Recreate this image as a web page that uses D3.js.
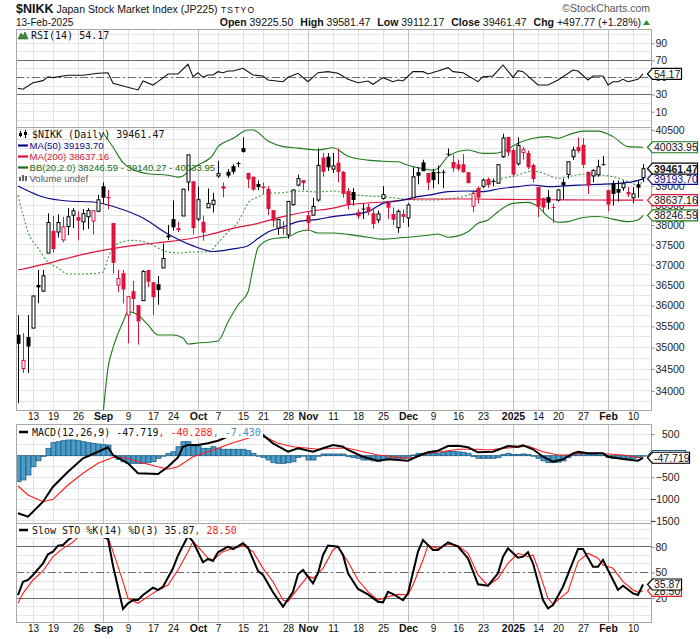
<!DOCTYPE html>
<html><head><meta charset="utf-8">
<script src="https://cdn.jsdelivr.net/npm/d3@7"></script>
<style>body{margin:0;background:#fff}</style>
</head><body>
<svg id="c" width="700" height="639"></svg>
<script>
// ---------------- DATA ----------------
const dates = [
"2024-08-07","2024-08-08","2024-08-09","2024-08-13","2024-08-14","2024-08-15","2024-08-16","2024-08-19","2024-08-20","2024-08-21","2024-08-22","2024-08-23","2024-08-26","2024-08-27","2024-08-28","2024-08-29","2024-08-30",
"2024-09-02","2024-09-03","2024-09-04","2024-09-05","2024-09-06","2024-09-09","2024-09-10","2024-09-11","2024-09-12","2024-09-13","2024-09-17","2024-09-18","2024-09-19","2024-09-20","2024-09-24","2024-09-25","2024-09-26","2024-09-27","2024-09-30",
"2024-10-01","2024-10-02","2024-10-03","2024-10-04","2024-10-07","2024-10-08","2024-10-09","2024-10-10","2024-10-11","2024-10-15","2024-10-16","2024-10-17","2024-10-18","2024-10-21","2024-10-22","2024-10-23","2024-10-24","2024-10-25","2024-10-28","2024-10-29","2024-10-30","2024-10-31",
"2024-11-01","2024-11-05","2024-11-06","2024-11-07","2024-11-08","2024-11-11","2024-11-12","2024-11-13","2024-11-14","2024-11-15","2024-11-18","2024-11-19","2024-11-20","2024-11-21","2024-11-22","2024-11-25","2024-11-26","2024-11-27","2024-11-28","2024-11-29",
"2024-12-02","2024-12-03","2024-12-04","2024-12-05","2024-12-06","2024-12-09","2024-12-10","2024-12-11","2024-12-12","2024-12-13","2024-12-16","2024-12-17","2024-12-18","2024-12-19","2024-12-20","2024-12-23","2024-12-24","2024-12-25","2024-12-26","2024-12-27","2024-12-30",
"2025-01-06","2025-01-07","2025-01-08","2025-01-09","2025-01-10","2025-01-14","2025-01-15","2025-01-16","2025-01-17","2025-01-20","2025-01-21","2025-01-22","2025-01-23","2025-01-24","2025-01-27","2025-01-28","2025-01-29","2025-01-30","2025-01-31",
"2025-02-03","2025-02-04","2025-02-05","2025-02-06","2025-02-07","2025-02-10","2025-02-12","2025-02-13"];

const open = [35300,34510,35250,35460,36500,36350,37290,37850,37820,37620,37960,38250,38200,38080,38210,38100,38350,39000,38720,38050,
36500,36790,35770,36350,36010,36120,36870,36570,36520,36920,37700,38150,37920,38230,39110,39130,38150,38080,38440,38530,
39270,39000,39380,39530,39610,40010,39350,39250,39060,38990,38930,38380,37920,37930,37750,38520,39030,39160,38250,38250,
38640,39760,39780,39450,39620,39380,38880,38850,38330,38420,38460,38300,38130,38680,38570,38280,37930,38280,38180,38700,
39370,39630,39350,39380,39370,39380,39860,39640,39580,39580,39370,38480,38950,39000,39190,39140,39080,39780,40310,39960,
39590,39890,39880,39560,38980,38690,38720,38460,38640,39110,39310,39780,40040,40100,39380,39270,39300,39580,38900,39080,
38930,38960,38850,38700,39050,39225.50];
const high = [35770,35340,35770,36240,36870,36870,38300,38230,38270,38210,38430,38430,38350,38410,38430,38380,38780,39100,38900,38050,
36870,36870,36220,36600,36010,36870,36870,36570,36720,37530,38000,38630,38080,38930,39830,39130,38990,38240,38940,38830,
39670,39100,39450,39580,39650,40300,39350,39250,39150,39100,39000,38380,38150,38100,38610,38920,39300,39160,38350,38700,
40000,39880,39880,39880,40000,39400,38950,38950,38400,38550,38550,38400,38370,39000,38570,38450,38400,38400,38560,39500,
39500,39700,39350,39450,39550,39430,40000,39840,39700,39850,39370,38900,39000,39200,39230,39200,39570,40400,40310,40000,
40300,40050,39950,39600,38980,38700,38900,38550,38920,39200,39650,40050,40300,40280,39380,39450,39700,39800,38900,39150,
39150,39150,38980,38980,39150,39581.47];
const low = [33720,34410,34410,35460,36060,36330,37290,37300,37680,37560,37740,37920,37610,37870,37900,37760,38330,38550,38400,36780,
36330,36050,35100,35860,35070,36120,36450,35770,36020,36920,37620,37860,37820,38230,38880,37760,38100,37600,38440,38320,
39220,38710,39220,39320,39500,39890,38950,38880,38900,38800,38250,37950,37750,37750,37650,38500,39000,38900,37850,38250,
38600,39250,39400,39350,39100,38700,38400,38500,38150,38150,38250,37900,38050,38650,38150,38000,37800,38050,37950,38700,
39050,39420,38900,38950,39050,38950,39800,39380,39400,39360,39080,38330,38550,38950,38960,39000,39070,39750,39800,39250,
39550,39700,39450,39100,38200,38300,38400,38050,38600,38650,39200,39700,39880,39480,38800,39100,39250,39550,38350,38500,
38600,38880,38720,38560,38700,39112.17];
const close = [35089,34700,35025,36232,36442,36726,38062,37388,38062,37951,38211,38364,38110,38288,38371,38362,38647,38700,38686,37047,
36657,36391,36215,36159,35619,36833,36581,36203,36380,37155,37723,37940,37870,38925,39829,37919,38651,37808,38552,38635,
39332,38937,39277,39380,39605,39910,39180,38911,38981,38954,38411,38104,38143,37913,38605,38903,39200,39081,38053,38474,
39550,39381,39500,39533,39376,38800,38535,38642,38220,38414,38352,38026,38283,38780,38442,38134,38349,38208,38513,39248,
39276,39395,39091,39161,39367,39372,39849,39470,39457,39365,39082,38813,38701,39161,39036,39130,39568,40281,39894,39307,
40083,39981,39500,39190,38474,38445,38572,38451,38902,39027,39646,39958,39931,39565,39016,39415,39513,39572,38520,38798,
38831,39066,38787,38801,38963.70,39461.47];

// overlays: [trading-day index, value]
const ma50 = [[0,39007],[5,38720],[10,38616],[15,38590],[20,38436],[25,38180],[30,37770],[35,37470],[39,37330],[43,37395],[46,37475],[48,37655],[50,37820],[53,37950],[56,38085],[60,38145],[63,38215],[66,38256],[70,38340],[73,38555],[76,38616],[80,38728],[83,38790],[86,38860],[90,38876],[93,38860],[96,38928],[100,38990],[103,39033],[106,38990],[110,39016],[113,39033],[116,39050],[120,39077],[123,39120],[125,39193.70]];
const ma200 = [[0,36870],[6,37035],[13,37260],[18,37385],[25,37510],[30,37577],[34,37645],[38,37745],[43,37915],[48,38042],[53,38215],[58,38345],[63,38432],[66,38520],[73,38590],[80,38668],[90,38668],[100,38655],[110,38645],[120,38640],[125,38637.16]];
const bbUpper = [[17,40420],[19,40040],[21,39620],[23,39440],[26,39330],[30,39290],[32,39240],[33,39270],[34,39390],[36,39560],[39,39830],[40,40050],[43,40270],[46,40500],[47,40500],[50,40200],[53,40050],[56,40010],[60,39960],[63,40020],[66,39790],[70,39690],[73,39660],[76,39645],[78,39555],[80,39490],[83,39425],[84,39470],[86,39790],[90,39960],[93,39870],[95,39870],[97,39920],[100,40140],[103,40275],[106,40320],[108,40275],[110,40365],[113,40470],[116,40470],[119,40320],[122,40050],[125,40033.95]];
const bbMiddle = [[0,38770],[1,38256],[2,37823],[4,37418],[6,37068],[8,36920],[10,36772],[13,36772],[16,36796],[17,36820],[18,37168],[19,37443],[21,37577],[23,37610],[26,37544],[28,37418],[30,37318],[32,37293],[35,37318],[38,37318],[40,37544],[42,37822],[44,38076],[45,38307],[46,38565],[48,38720],[50,38824],[52,38824],[54,38850],[56,38876],[60,38850],[63,38876],[66,38800],[70,38745],[73,38728],[76,38685],[80,38642],[83,38642],[86,38668],[90,38770],[93,38990],[96,39164],[100,39296],[103,39401],[106,39296],[108,39208],[110,39252],[113,39314],[116,39296],[119,39252],[122,39120],[124,39033],[125,39140.27]];
const bbLower = [[17,33450],[18,34525],[19,34990],[21,35606],[22,35855],[24,35775],[26,35535],[28,35297],[31,35297],[33,35226],[34,35085],[36,35108],[40,35155],[42,35606],[44,36014],[46,36330],[47,36920],[48,37420],[50,37620],[52,37670],[54,37695],[56,37820],[58,37873],[60,37795],[63,37795],[66,37760],[70,37690],[73,37640],[76,37670],[78,37690],[82,37740],[84,37770],[86,37690],[90,37830],[92,38045],[94,38127],[96,38340],[99,38555],[102,38580],[104,38470],[106,38215],[108,38070],[110,38085],[113,38190],[116,38215],[119,38150],[122,38085],[124,38127],[125,38246.59]];

const rsi = [[0,37.4],[1,36.2],[3,43.9],[5,46.3],[6,50.9],[7,49.8],[10,52.6],[13,52.6],[16,54.9],[18,55.6],[19,43.2],[21,40.1],[24,35.4],[25,45.9],[27,41.2],[28,45.1],[30,54.1],[32,54.1],[34,65.4],[35,50.9],[36,55.6],[37,50.2],[38,52.9],[39,52.9],[40,56.8],[41,55.6],[42,57.6],[43,57.6],[45,60.8],[47,52.9],[49,51.8],[50,47.1],[53,45.1],[54,50.2],[56,54.9],[58,45.1],[60,55.6],[62,56.8],[64,54.9],[66,47.9],[68,43.9],[70,45.9],[71,42.0],[73,49.8],[75,45.1],[76,47.1],[77,45.9],[79,56.8],[81,56.8],[82,54.1],[84,57.6],[86,61.5],[87,56.8],[89,55.6],[92,45.1],[93,50.9],[95,51.8],[97,64.6],[99,50.2],[100,58.0],[101,56.8],[104,41.2],[106,41.2],[108,47.1],[111,58.8],[112,57.6],[114,47.1],[115,51.8],[117,51.8],[118,41.2],[119,45.1],[120,45.1],[121,47.9],[122,45.1],[124,47.9],[125,54.17]];

const macd = [[0,-1330],[2,-1409],[5,-1062],[7,-716],[10,-370],[13,-60],[16,92],[18,194],[19,16],[22,-176],[24,-406],[28,-423],[30,-254],[32,-37],[33,208],[34,247],[36,247],[38,286],[40,346],[42,439],[44,531],[46,560],[48,530],[49,480],[51,286],[54,92],[56,171],[59,92],[61,171],[63,247],[65,208],[66,132],[69,-23],[72,-115],[74,-83],[78,-115],[80,-7],[82,78],[84,115],[86,224],[88,231],[90,194],[92,78],[95,92],[98,224],[100,208],[101,240],[103,148],[105,-23],[107,-139],[109,-83],[111,55],[112,92],[114,55],[117,55],[118,-23],[121,-76],[124,-115],[125,-47.719]];
const macdSignal = [[0,-700],[2,-908],[5,-1062],[7,-1007],[10,-677],[13,-406],[16,-176],[19,-37],[22,-60],[24,-139],[28,-254],[30,-314],[32,-254],[35,-23],[38,92],[40,171],[43,300],[46,402],[48,455],[50,402],[52,286],[55,208],[58,171],[60,148],[63,171],[66,171],[69,92],[72,16],[75,-23],[78,-60],[80,-23],[82,55],[86,115],[88,148],[92,148],[94,132],[97,171],[100,194],[102,224],[105,92],[108,16],[110,16],[113,55],[116,55],[118,39],[121,16],[124,-37],[125,-40.288]];
const macdHist = [-600,-560,-446,-254,-115,-15,171,300,323,346,363,363,346,323,300,286,270,254,247,10,
-83,-139,-176,-176,-176,-176,-162,-139,-60,0,55,92,208,323,323,224,224,171,171,208,
171,148,148,148,148,148,115,55,0,-37,-99,-162,-176,-176,-162,-139,-37,0,-99,-99,
0,39,39,39,39,39,-20,-40,-60,-99,-99,-120,-130,-99,-60,-60,-60,-60,-40,16,
55,55,55,55,55,80,100,100,90,80,55,-20,-60,-60,-60,-60,-40,30,55,30,
30,40,30,-10,-60,-120,-160,-160,-150,-120,-40,30,55,55,40,30,20,10,-40,-60,
-60,-60,-60,-60,-40,-7.430];

const stoK = [[0,23.5],[1,39.2],[2,41.2],[3,47.1],[5,60.8],[6,71.4],[7,74.5],[8,81.6],[9,82.4],[10,88.2],[11,92],[17,92],[18,89.4],[19,58],[21,7.1],[22,13.8],[23,17.6],[24,17.6],[25,23.5],[27,32.2],[28,29.4],[29,33.3],[31,55],[32,70],[34,93],[35,86.3],[37,62],[38,65.9],[39,63.5],[40,73.8],[42,80.4],[43,77.6],[45,84.3],[46,79.2],[48,51.8],[49,47.1],[51,26.7],[53,9.8],[55,27.4],[56,47.9],[57,52.9],[59,37.3],[60,49.1],[61,70.6],[62,81.6],[64,80.4],[65,70.6],[66,49],[68,30.6],[70,24.3],[72,15.7],[73,14.9],[74,27.4],[75,24.7],[77,17.6],[78,25.5],[80,74.5],[81,88.2],[83,76.5],[84,76.5],[86,85.5],[88,80.4],[90,66.7],[92,36.1],[94,34.5],[96,49.1],[97,68.6],[98,78.4],[100,67.4],[101,68.6],[102,73.8],[103,60.8],[105,17.6],[106,7.9],[107,11.8],[109,33.3],[112,77.6],[113,77.6],[115,56.9],[116,56.9],[117,64.7],[118,52.9],[120,29.4],[121,34.5],[123,25.5],[124,23.5],[125,35.87]];
const stoD = [[0,13.8],[1,25.5],[3,41.2],[5,51.8],[7,68.6],[9,78.4],[11,85.5],[12,92],[18,92],[19,74.5],[21,39.2],[22,19.6],[24,13.8],[26,21.6],[28,29.4],[30,35.3],[32,52.9],[34,74.5],[35,86.3],[36,80.4],[38,66.7],[39,64.7],[41,74.5],[43,78.4],[45,81.6],[47,74.5],[49,54.9],[51,39.2],[53,17.6],[54,15.7],[56,31.4],[58,45.9],[59,43.2],[61,54.9],[63,76.5],[64,80.4],[66,62.7],[68,41.2],[70,27.4],[72,17.6],[74,21.6],[76,24.3],[78,23.5],[79,35.3],[81,64.7],[82,81.6],[84,78.4],[86,83.2],[88,81.6],[90,72.6],[92,47.1],[94,34.5],[96,43.2],[98,60.8],[100,72.6],[102,68.6],[103,70.6],[104,54.9],[106,19.6],[107,12.6],[110,27.4],[112,62.7],[114,72.6],[116,66.7],[117,58.8],[119,54.9],[121,39.2],[123,29.4],[124,26.7],[125,28.50]];

const xTickDates = ["2024-08-13","2024-08-19","2024-08-26","2024-09-02","2024-09-09","2024-09-17","2024-09-24","2024-10-01","2024-10-07","2024-10-15","2024-10-21","2024-10-28","2024-11-01","2024-11-11","2024-11-18","2024-11-25","2024-12-02","2024-12-09","2024-12-16","2024-12-23","2025-01-06","2025-01-14","2025-01-20","2025-01-27","2025-02-03","2025-02-10"];
const xTickLabels = ["13","19","26","Sep","9","17","24","Oct","7","15","21","28","Nov","11","18","25","Dec","9","16","23","2025","14","20","27","Feb","10"];
const monthLabels = ["Sep","Oct","Nov","Dec","2025","Feb"];
// axis labels that stay visible around the value tags
const priceTicks = [34000,34500,35000,35500,36000,36500,37000,37500,38000,38500,39000,40500];
const rsiTicks = [10,30,50,70,90];
const macdTicks = [500,-500,-1000,-1500];
const stoTicks = [20,50,80];

// ---------------- LAYOUT ----------------
const SANS = '"Liberation Sans", Arial, sans-serif';
const MONO = '"DejaVu Sans Mono", monospace';
const L = 16, R = 651;
const panels = {rsi:[29,127], main:[127,410], macd:[424,523], sto:[523,622]};
const svg = d3.select('#c');

const x = d3.scalePoint().domain(dates).range([18, 643]);
const xi = i => x(dates[i]);
const yRsi = d3.scaleLinear().domain([-7.9, 106.7]).range([127, 29]);
const yMain = d3.scaleLog().domain([33565, 40581]).range([410, 127]);
const yMacd = d3.scaleLinear().domain([-1554, 732]).range([523, 424]);
const ySto = d3.scaleLinear().domain([-8.2, 108.2]).range([622, 523]);

const defs = svg.append('defs');
Object.entries(panels).forEach(([k,[t,b]]) => {
  defs.append('clipPath').attr('id','clip-'+k).append('rect')
    .attr('x',L).attr('y',t).attr('width',R-L).attr('height',b-t);
});

function vgrid(t,b){
  xTickDates.forEach((d,k)=>{
    const major = monthLabels.includes(xTickLabels[k]);
    svg.append('line').attr('x1',x(d)).attr('x2',x(d)).attr('y1',t).attr('y2',b)
      .attr('stroke', major ? '#c2c2c2' : '#e2e2e2').attr('stroke-width',1)
      .attr('shape-rendering','crispEdges');
  });
}
function hgrid(vals, y, t, b){
  vals.forEach(v=>{
    const yy = y(v); if (yy < t || yy > b) return;
    svg.append('line').attr('x1',L).attr('x2',R).attr('y1',yy).attr('y2',yy)
      .attr('stroke','#e6e6e6').attr('shape-rendering','crispEdges');
  });
}
function refLine(y, v, dash){
  svg.append('line').attr('x1',L).attr('x2',R).attr('y1',y(v)).attr('y2',y(v))
    .attr('stroke','#6a6a6a').attr('stroke-width',1).attr('shape-rendering','crispEdges')
    .attr('stroke-dasharray', dash ? '8,3,2,3' : null);
}

hgrid(d3.range(0,101,10), yRsi, 29, 127);
hgrid(d3.range(33750,40501,250), yMain, 127, 410);
hgrid(d3.range(-1500,501,250), yMacd, 424, 523);
hgrid(d3.range(0,101,10), ySto, 523, 622);
Object.values(panels).forEach(([t,b])=>vgrid(t,b));

refLine(yRsi,70); refLine(yRsi,30); refLine(yRsi,50,true);
refLine(ySto,80); refLine(ySto,20); refLine(ySto,50,true);

// ---------------- MAIN PANEL ----------------
const gMain = svg.append('g').attr('clip-path','url(#clip-main)');
const smooth = d3.line().x(d=>xi(d[0])).y(d=>yMain(d[1])).curve(d3.curveMonotoneX);
gMain.append('path').attr('d',smooth(bbUpper)).attr('fill','none').attr('stroke','#1c7a1c').attr('stroke-width',1.1);
gMain.append('path').attr('d',smooth(bbLower)).attr('fill','none').attr('stroke','#1c7a1c').attr('stroke-width',1.1);
gMain.append('path').attr('d',smooth(bbMiddle)).attr('fill','none').attr('stroke','#3f9a3f').attr('stroke-width',1.1).attr('stroke-dasharray','2,2');
gMain.append('path').attr('d',smooth(ma200)).attr('fill','none').attr('stroke','#dc143c').attr('stroke-width',1.2);
gMain.append('path').attr('d',smooth(ma50)).attr('fill','none').attr('stroke','#0a0a8a').attr('stroke-width',1.2);

dates.forEach((d,i)=>{
  const cx = Math.round(x(d)) + 0.5;
  const up = i === 0 ? true : close[i] >= close[i-1];
  const col = up ? '#000' : '#dc143c';
  const hollow = close[i] > open[i];
  const yH = yMain(high[i]), yL = yMain(low[i]);
  const yO = yMain(open[i]), yC = yMain(close[i]);
  const top = Math.min(yO,yC), bot = Math.max(yO,yC);
  gMain.append('line').attr('x1',cx).attr('x2',cx).attr('y1',yH).attr('y2',yL).attr('stroke',col).attr('stroke-width',1);
  if (hollow) {
    gMain.append('rect').attr('x',cx-1.5).attr('y',top).attr('width',3).attr('height',Math.max(bot-top,1))
      .attr('fill','#fff').attr('stroke',col).attr('stroke-width',1);
  } else {
    gMain.append('rect').attr('x',cx-2).attr('y',top).attr('width',4).attr('height',Math.max(bot-top,1))
      .attr('fill',col);
  }
});

// ---------------- RSI ----------------
const lin = (y)=>d3.line().x(d=>xi(d[0])).y(d=>y(d[1]));
svg.append('g').attr('clip-path','url(#clip-rsi)').append('path').attr('d',lin(yRsi)(rsi))
  .attr('fill','none').attr('stroke','#111').attr('stroke-width',1.1);

// ---------------- MACD ----------------
const gM = svg.append('g').attr('clip-path','url(#clip-macd)');
macdHist.forEach((v,i)=>{
  const cx = Math.round(xi(i));
  const y0 = yMacd(0), y1 = yMacd(v);
  gM.append('rect').attr('x',cx-2.5+0.5).attr('y',Math.min(y0,y1)).attr('width',5)
    .attr('height',Math.max(Math.abs(y1-y0),0.5))
    .attr('fill','#4c9cc8').attr('stroke','#1d5d86').attr('stroke-width',0.8);
});
gM.append('path').attr('d',lin(yMacd)(macdSignal)).attr('fill','none').attr('stroke','#ff1a1a').attr('stroke-width',1.1);
gM.append('path').attr('d',lin(yMacd)(macd)).attr('fill','none').attr('stroke','#000').attr('stroke-width',2);

// ---------------- STO ----------------
const gS = svg.append('g').attr('clip-path','url(#clip-sto)');
gS.append('path').attr('d',lin(ySto)(stoD)).attr('fill','none').attr('stroke','#ff1a1a').attr('stroke-width',1.1);
gS.append('path').attr('d',lin(ySto)(stoK)).attr('fill','none').attr('stroke','#000').attr('stroke-width',2);

Object.values(panels).forEach(([t,b])=>{
  svg.append('rect').attr('x',L+0.5).attr('y',t+0.5).attr('width',R-L).attr('height',b-t)
    .attr('fill','none').attr('stroke','#a8a8a8').attr('stroke-width',1);
});

// ---------------- AXES ----------------
function rightAxis(y, ticks, fmt, anchorEnd){
  const g = svg.append('g').attr('transform',`translate(${R+0.5},0)`)
    .call(d3.axisRight(y).tickValues(ticks).tickFormat(fmt).tickSize(3).tickPadding(1));
  g.select('.domain').remove();
  g.selectAll('line').attr('stroke','#888');
  g.selectAll('text').attr('font-family',SANS).attr('font-size',10.5).attr('fill','#222');
  if (anchorEnd) g.selectAll('text').attr('text-anchor','end').attr('x',28);
  return g;
}
rightAxis(yRsi, rsiTicks, d3.format('d'));
rightAxis(yMain, priceTicks, d3.format('d'));
rightAxis(yMacd, macdTicks, d3.format('d'), true);
rightAxis(ySto, stoTicks, d3.format('d'));

function bottomAxis(yPos){
  const g = svg.append('g').attr('transform',`translate(0,${yPos})`)
    .call(d3.axisBottom(x).tickValues(xTickDates).tickFormat((d,k)=>xTickLabels[k]).tickSize(0).tickPadding(3));
  g.select('.domain').remove();
  g.selectAll('text').attr('font-family',SANS).attr('fill','#111')
    .attr('font-size',(d,k)=>monthLabels.includes(xTickLabels[k]) ? 10.5 : 10)
    .attr('font-weight',(d,k)=>monthLabels.includes(xTickLabels[k]) ? 'bold' : 'normal');
}
bottomAxis(410);
bottomAxis(622);

// ---------------- VALUE TAGS ----------------
function tag(y, txt, col, w, bold, textCol){
  const g = svg.append('g');
  const h = 5.5, x0 = 647.5;
  g.append('path').attr('d',`M${x0},${y} L${x0+5},${y-h} L${x0+w},${y-h} L${x0+w},${y+h} L${x0+5},${y+h} Z`)
    .attr('fill','#fff').attr('stroke',col).attr('stroke-width',1.2);
  if (txt) g.append('text').attr('x',x0+6.5).attr('y',y+3.8).text(txt)
    .attr('font-family',SANS).attr('font-size',10.5).attr('font-weight',bold?'bold':'normal')
    .attr('fill',textCol||'#111');
}
tag(yMain(40033.95), '40033.95', '#1c7a1c', 50);
tag(yMain(38246.59), '38246.59', '#1c7a1c', 50);
tag(yMain(38637.16), '38637.16', '#dc143c', 50);
tag(yMain(39193.70), '39193.70', '#0a0a8a', 50, false, '#0a0a8a');
tag(yMain(39461.47), '39461.47', '#000', 50, true);
tag(yRsi(54.17), '54.17', '#000', 34);
// signal and histogram tags sit behind the MACD tag (only their edges show)
tag(yMacd(-40.288), '', '#ff1a1a', 38);
tag(yMacd(-7.430), '', '#1d5d86', 38);
tag(yMacd(-47.719), '-47.719', '#000', 42);
tag(ySto(28.50), '28.50', '#ff1a1a', 34);
tag(ySto(35.87), '35.87', '#000', 34);

// ---------------- LEGENDS ----------------
svg.append('path').attr('d','M18,39 L21,33 L23,36 L25,32 L28,39 Z').attr('fill','#3a8a3a').attr('stroke','#1d5d1d').attr('stroke-width',0.6);
svg.append('text').attr('x',31).attr('y',39).text('RSI(14) 54.17').attr('font-family',MONO).attr('font-size',10).attr('fill','#111');

const gl = svg.append('g');
[[20,131,137,133,136],[25,130,138,132,135]].forEach(([cx,t,b,bt,bb])=>{
  gl.append('line').attr('x1',cx+0.5).attr('x2',cx+0.5).attr('y1',t).attr('y2',b).attr('stroke','#000');
  gl.append('rect').attr('x',cx-1).attr('y',bt).attr('width',3).attr('height',bb-bt).attr('fill','#000');
});
gl.append('text').attr('x',32).attr('y',138).text('$NIKK (Daily) 39461.47').attr('font-family',MONO).attr('font-size',10).attr('fill','#111');
const ovl = [['MA(50) 39193.70','#0a0a8a',149],['MA(200) 38637.16','#dc143c',160],['BB(20,2.0) 38246.59 - 39140.27 - 40033.95','#1c6a1c',171]];
ovl.forEach(([t,c,yy])=>{
  gl.append('line').attr('x1',18).attr('x2',28).attr('y1',yy-3.5).attr('y2',yy-3.5).attr('stroke',c).attr('stroke-width',2.2);
  gl.append('text').attr('x',29.5).attr('y',yy).text(t).attr('font-family',SANS).attr('font-size',9.6).attr('fill',c);
});
[[19,177,181],[22,175,181],[25,176,181]].forEach(([bx,t,b])=>gl.append('rect').attr('x',bx).attr('y',t).attr('width',2).attr('height',b-t).attr('fill','#666'));
gl.append('text').attr('x',29.5).attr('y',182).text('Volume undef').attr('font-family',SANS).attr('font-size',9.6).attr('fill','#555');

svg.append('rect').attr('x',17).attr('y',425).attr('width',246).attr('height',13).attr('fill','#fff');
svg.append('line').attr('x1',19).attr('x2',28).attr('y1',432).attr('y2',432).attr('stroke','#000').attr('stroke-width',2.5);
const tm = svg.append('text').attr('x',32).attr('y',436).attr('font-family',MONO).attr('font-size',10);
tm.append('tspan').text('MACD(12,26,9) -47.719').attr('fill','#111');
tm.append('tspan').text(', -40.288').attr('fill','#ff1a1a');
tm.append('tspan').text(', -7.430').attr('fill','#3a90c8');

svg.append('rect').attr('x',17).attr('y',524).attr('width',230).attr('height',14).attr('fill','#fff');
svg.append('line').attr('x1',19).attr('x2',28).attr('y1',530).attr('y2',530).attr('stroke','#000').attr('stroke-width',2.5);
const ts = svg.append('text').attr('x',32).attr('y',534).attr('font-family',MONO).attr('font-size',10);
ts.append('tspan').text('Slow STO %K(14) %D(3) 35.87').attr('fill','#111');
ts.append('tspan').text(', 28.50').attr('fill','#ff1a1a');

// ---------------- HEADER ----------------
const th = svg.append('text').attr('x',16).attr('y',13).attr('font-family',SANS).attr('fill','#111');
th.append('tspan').text('$NIKK').attr('font-weight','bold').attr('font-size',12.5);
th.append('tspan').text(' Japan Stock Market Index (JP225)').attr('font-size',10.5);
th.append('tspan').text(' TSTYO').attr('font-size',8.5).attr('letter-spacing',1.2);
svg.append('text').attr('x',16).attr('y',26).text('13-Feb-2025').attr('font-family',SANS).attr('font-size',10).attr('fill','#111');
svg.append('text').attr('x',650).attr('y',12).attr('text-anchor','end').text('\u00A9StockCharts.com')
  .attr('font-family',SANS).attr('font-size',10.5).attr('fill','#555');
const ohlc = svg.append('text').attr('x',641).attr('y',26).attr('text-anchor','end').attr('font-family',SANS).attr('font-size',10.5).attr('fill','#111');
[['Open','39225.50'],['High','39581.47'],['Low','39112.17'],['Close','39461.47'],['Chg','+497.77 (+1.28%)']].forEach(([k,v],j)=>{
  ohlc.append('tspan').text(k).attr('font-weight','bold').attr('dx', j ? 7 : 0);
  ohlc.append('tspan').text(' '+v);
});
svg.append('path').attr('d','M643,25 L646.5,20 L650,25 Z').attr('fill','#2e8b2e');
</script>
</body></html>
